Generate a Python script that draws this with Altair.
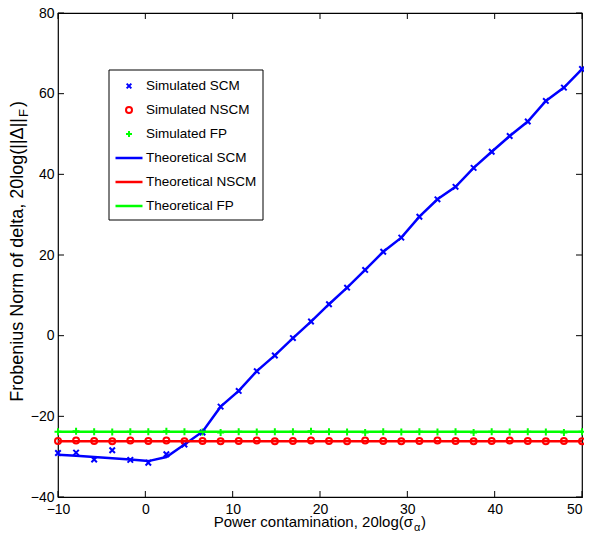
import altair as alt
import pandas as pd

# ---------------- data ----------------
x_vals = [-10.0, -7.93, -5.86, -3.79, -1.72, 0.34, 2.41, 4.48, 6.55, 8.62,
          10.69, 12.76, 14.83, 16.90, 18.97, 21.03, 23.10, 25.17, 27.24, 29.31,
          31.38, 33.45, 35.52, 37.59, 39.66, 41.72, 43.79, 45.86, 47.93, 50.0]

sim_scm = [-29.1, -29.0, -30.7, -28.4, -30.8, -31.5, -29.4, -27.0, -24.0, -17.6,
           -13.7, -8.8, -4.9, -0.6, 3.5, 7.8, 11.9, 16.3, 20.8, 24.3,
           29.5, 33.8, 36.9, 41.6, 45.6, 49.5, 53.1, 58.2, 61.5, 66.1]
sim_nscm = [-26.1, -26.0, -26.1, -26.2, -26.0, -26.1, -26.0, -26.2, -26.1, -26.2,
            -26.1, -26.0, -26.2, -26.1, -26.0, -26.1, -26.2, -26.0, -26.1, -26.2,
            -26.1, -26.0, -26.1, -26.2, -26.1, -26.0, -26.1, -26.2, -26.1, -26.2]
sim_fp = [-23.8, -23.7, -23.8, -23.9, -23.8, -23.8, -23.7, -23.8, -23.9, -24.0,
          -23.8, -23.9, -23.8, -23.8, -23.7, -23.8, -23.9, -24.0, -23.8, -23.9,
          -23.8, -23.9, -23.8, -24.0, -23.8, -23.9, -23.8, -23.9, -24.0, -23.8]
th_scm = [-29.5, -29.8, -30.1, -30.4, -30.7, -31.1, -30.1, -27.0, -23.8, -17.6,
          -13.7, -8.8, -4.9, -0.6, 3.5, 7.8, 11.9, 16.3, 20.8, 24.3,
          29.5, 33.8, 36.9, 41.6, 45.6, 49.5, 53.1, 58.2, 61.5, 66.1]
th_nscm = [-26.2, -26.2, -26.2, -26.2, -26.2, -26.2, -26.2, -26.2, -26.2, -26.2,
           -26.2, -26.2, -26.2, -26.2, -26.2, -26.2, -26.2, -26.2, -26.2, -26.2,
           -26.2, -26.2, -26.2, -26.2, -26.2, -26.2, -26.2, -26.2, -26.2, -26.2]
th_fp = [-23.8, -23.8, -23.8, -23.8, -23.8, -23.8, -23.8, -23.8, -23.8, -23.8,
         -23.8, -23.8, -23.8, -23.8, -23.8, -23.8, -23.8, -23.8, -23.8, -23.8,
         -23.8, -23.8, -23.8, -23.8, -23.8, -23.8, -23.8, -23.8, -23.8, -23.8]

x_ticks = [-10, 0, 10, 20, 30, 40, 50]
y_ticks = [-40, -20, 0, 20, 40, 60, 80]

legend_labels = ["Simulated SCM", "Simulated NSCM", "Simulated FP",
                 "Theoretical SCM", "Theoretical NSCM", "Theoretical FP"]

# ---------------- styling ----------------
BLUE, RED, GREEN = "#0000ff", "#ff0000", "#00ff00"
FONT = "Liberation Sans, Arial, Helvetica"
X_SHAPE = "M-1,-1L1,1M-1,1L1,-1"
PLUS_SHAPE = "M0,-1V1M-1,0H1"

W, H = 524, 484

xscale = alt.Scale(domain=[-10, 50], nice=False, zero=False)
yscale = alt.Scale(domain=[-40, 80], nice=False, zero=False)
xaxis = alt.Axis(values=x_ticks, title=None, grid=False, domain=False, ticks=False,
                 tickSize=0, labelFont=FONT, labelFontSize=14, labelColor="black",
                 labelPadding=5, labelFlush=False,
                 labelAlign=alt.ExprRef(f"datum.value == {x_ticks[-1]} ? 'right' : 'center'"),
                 labelBound=False)
yaxis = alt.Axis(values=y_ticks, title=None, grid=False, domain=False, ticks=False,
                 tickSize=0, labelFont=FONT, labelFontSize=14, labelColor="black",
                 labelPadding=4, labelFlush=False)


def X(f):
    return alt.X(f"{f}:Q", scale=xscale, axis=xaxis)


def Y(f):
    return alt.Y(f"{f}:Q", scale=yscale, axis=yaxis)


def series_df(ys):
    return pd.DataFrame({"x": x_vals, "y": ys})


layers = []

# simulated markers
layers.append(alt.Chart(series_df(sim_scm)).mark_point(
    shape=X_SHAPE, filled=False, size=30, strokeWidth=2, color=BLUE, opacity=1
).encode(x=X("x"), y=Y("y")))
layers.append(alt.Chart(series_df(sim_nscm)).mark_point(
    shape="circle", filled=False, size=36, strokeWidth=2, color=RED, opacity=1
).encode(x=X("x"), y=Y("y")))
layers.append(alt.Chart(series_df(sim_fp)).mark_point(
    shape=PLUS_SHAPE, filled=False, size=49, strokeWidth=2, color=GREEN, opacity=1
).encode(x=X("x"), y=Y("y")))

# theoretical lines
for ys, col in [(th_scm, BLUE), (th_nscm, RED), (th_fp, GREEN)]:
    layers.append(alt.Chart(series_df(ys)).mark_line(
        strokeWidth=2.5, color=col
    ).encode(x=X("x"), y=Y("y")))

# inward ticks (MATLAB style box ticks)
bt = pd.DataFrame({"x": x_ticks, "y": [y_ticks[0]] * len(x_ticks)})
tt = pd.DataFrame({"x": x_ticks, "y": [y_ticks[-1]] * len(x_ticks)})
lt = pd.DataFrame({"x": [x_ticks[0]] * len(y_ticks), "y": y_ticks})
rt = pd.DataFrame({"x": [x_ticks[-1]] * len(y_ticks), "y": y_ticks})
layers.append(alt.Chart(bt).mark_tick(orient="vertical", size=6, thickness=1,
                                      yOffset=-3, color="black", opacity=1)
              .encode(x=X("x"), y=Y("y")))
layers.append(alt.Chart(tt).mark_tick(orient="vertical", size=6, thickness=1,
                                      yOffset=3, color="black", opacity=1)
              .encode(x=X("x"), y=Y("y")))
layers.append(alt.Chart(lt).mark_tick(orient="horizontal", size=6, thickness=1,
                                      xOffset=3, color="black", opacity=1)
              .encode(x=X("x"), y=Y("y")))
layers.append(alt.Chart(rt).mark_tick(orient="horizontal", size=6, thickness=1,
                                      xOffset=-3, color="black", opacity=1)
              .encode(x=X("x"), y=Y("y")))

one = pd.DataFrame({"k": [0]})

# legend box
LX0, LX1, LY0, LY1 = 51, 205, 57, 207
ROW0, ROWSTEP = 73, 24
layers.append(alt.Chart(one).mark_rect(fill="white", stroke="black", strokeWidth=1)
              .encode(x=alt.value(LX0), x2=alt.value(LX1),
                      y=alt.value(LY0), y2=alt.value(LY1)))
legend_marks = [(X_SHAPE, 22, BLUE), ("circle", 36, RED), (PLUS_SHAPE, 36, GREEN)]
for i, (shp, sz, col) in enumerate(legend_marks):
    layers.append(alt.Chart(one).mark_point(shape=shp, filled=False, size=sz,
                                            strokeWidth=2, color=col, opacity=1)
                  .encode(x=alt.value(71), y=alt.value(ROW0 + ROWSTEP * i)))
for j, col in enumerate([BLUE, RED, GREEN]):
    yy = ROW0 + ROWSTEP * (3 + j)
    layers.append(alt.Chart(one).mark_rule(strokeWidth=2.5, color=col)
                  .encode(x=alt.value(57.5), x2=alt.value(84.5), y=alt.value(yy)))
for i, lab in enumerate(legend_labels):
    layers.append(alt.Chart(one).mark_text(align="left", baseline="middle",
                                           font=FONT, fontSize=13.5, color="black")
                  .encode(x=alt.value(88), y=alt.value(ROW0 + ROWSTEP * i),
                          text=alt.value(lab)))

# x-axis title with subscript
layers.append(alt.Chart(one).mark_text(align="right", baseline="alphabetic",
                                       font=FONT, fontSize=15, color="black")
              .encode(x=alt.value(355), y=alt.value(514),
                      text=alt.value("Power contamination, 20log(σ")))
layers.append(alt.Chart(one).mark_text(align="left", baseline="alphabetic",
                                       font=FONT, fontSize=11, color="black")
              .encode(x=alt.value(356), y=alt.value(518), text=alt.value("α")))
layers.append(alt.Chart(one).mark_text(align="left", baseline="alphabetic",
                                       font=FONT, fontSize=15, color="black")
              .encode(x=alt.value(363), y=alt.value(514), text=alt.value(")")))

# y-axis title with subscript (rotated)
layers.append(alt.Chart(one).mark_text(align="right", baseline="alphabetic", angle=270,
                                       font=FONT, fontSize=18, color="black")
              .encode(x=alt.value(-35), y=alt.value(105),
                      text=alt.value("Frobenius Norm of delta, 20log(||Δ||")))
layers.append(alt.Chart(one).mark_text(align="left", baseline="alphabetic", angle=270,
                                       font=FONT, fontSize=13, color="black")
              .encode(x=alt.value(-30), y=alt.value(104), text=alt.value("F")))
layers.append(alt.Chart(one).mark_text(align="left", baseline="alphabetic", angle=270,
                                       font=FONT, fontSize=18, color="black")
              .encode(x=alt.value(-35), y=alt.value(94), text=alt.value(")")))

chart = alt.layer(*layers).properties(
    width=W, height=H,
    autosize=alt.AutoSizeParams(type="none"),
    padding={"left": 50, "top": 5, "right": 2, "bottom": 35},
    background="white",
).configure_view(stroke="black", strokeWidth=1.2)

chart.save("out.html", embed_options={"renderer": "svg", "actions": False})
